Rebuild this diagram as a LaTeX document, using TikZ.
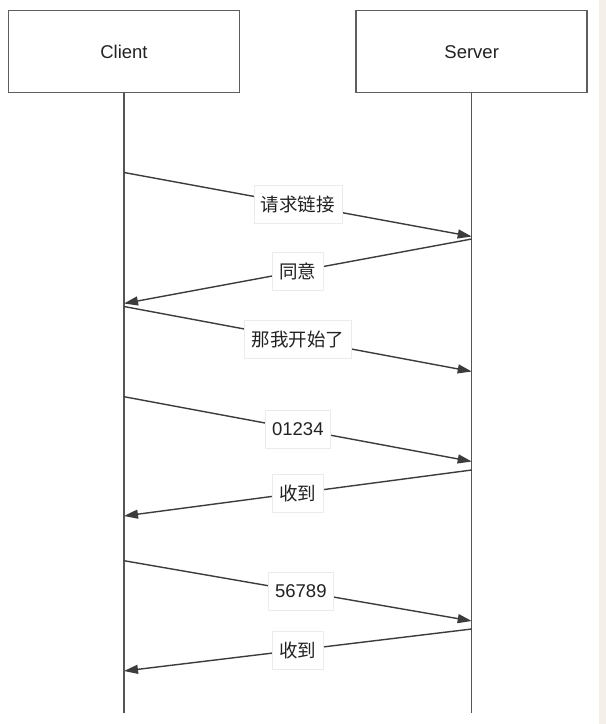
\documentclass[tikz,border=0pt]{standalone}
\usepackage{fontspec}
\setmainfont{Liberation Sans}
\newfontfamily\cjk{Noto Sans CJK SC}
\usetikzlibrary{arrows.meta}
\definecolor{linegray}{HTML}{3C3C3C}
\definecolor{lifegray}{HTML}{555555}
\definecolor{boxgray}{HTML}{5E5E5E}
\definecolor{txt}{HTML}{222222}
\definecolor{lblborder}{HTML}{EBEBEB}
\definecolor{strip}{HTML}{F4F0E9}
\tikzset{
  actor/.style={draw=boxgray, line width=1.5pt, fill=white, minimum width=231pt, minimum height=82pt, inner sep=0pt, text=txt, font=\fontsize{18.5}{22}\selectfont},
  lifeline/.style={draw=lifegray, line width=1.4pt},
  msg/.style={draw=linegray, line width=1.4pt, -{Triangle[length=14pt,width=9pt]}},
  lbl/.style={fill=white, draw=lblborder, line width=0.6pt, text=txt, inner xsep=7pt, inner ysep=0pt, minimum height=38pt, font=\fontsize{18.5}{22}\selectfont},
}
\begin{document}
\begin{tikzpicture}[x=1pt,y=-1pt]
\useasboundingbox (0,0) rectangle (606,724);
\fill[white] (0,0) rectangle (599,724);
\fill[strip] (599,0) rectangle (606,724);
\node[actor] (client) at (124,51.7) {Client};
\node[actor] (server) at (471.7,51.7) {Server};
\coordinate (cend) at (124,713);
\coordinate (send) at (471.7,713);
\draw[lifeline] (client.south) -- (cend);
\draw[lifeline] (server.south) -- (send);
% message end points
\coordinate (c1) at (124,172.5);   \coordinate (s1) at (471.7,236.5);
\coordinate (s2) at (471.7,239);   \coordinate (c2) at (124,303.5);
\coordinate (c3) at (124,306.5);   \coordinate (s3) at (471.7,371.5);
\coordinate (c4) at (124,396.7);   \coordinate (s4) at (471.7,461.5);
\coordinate (s5) at (471.7,470);   \coordinate (c5) at (124,516);
\coordinate (c6) at (124,560.7);   \coordinate (s6) at (471.7,621);
\coordinate (s7) at (471.7,629);   \coordinate (c7) at (124,671);
\draw[msg] (c1) -- node[lbl] (l1) {\cjk 请求链接} (s1);
\draw[msg] (s2) -- node[lbl] (l2) {\cjk 同意} (c2);
\draw[msg] (c3) -- node[lbl] (l3) {\cjk 那我开始了} (s3);
\draw[msg] (c4) -- node[lbl] (l4) {01234} (s4);
\draw[msg] (s5) -- node[lbl] (l5) {\cjk 收到} (c5);
\draw[msg] (c6) -- node[lbl, xshift=3pt] (l6) {56789} (s6);
\draw[msg] (s7) -- node[lbl] (l7) {\cjk 收到} (c7);
\end{tikzpicture}
\end{document}
